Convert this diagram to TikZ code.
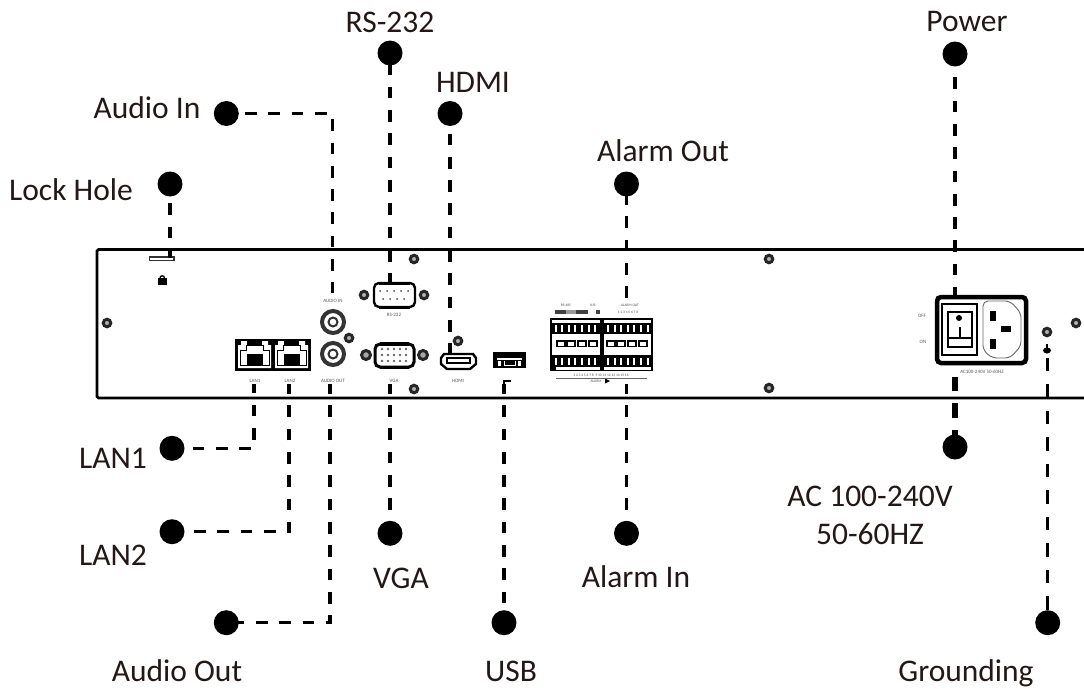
\documentclass[tikz,border=0pt]{standalone}
\usepackage{fontspec}
\setmainfont{Carlito}
\definecolor{ink}{HTML}{231815}
\tikzset{
  x=1pt,y=-1pt,
  dot/.style={circle,fill=black,draw=none,minimum size=25pt,inner sep=0pt},
  lbl/.style={font=\fontsize{31.5}{38}\selectfont,text=ink,inner sep=0pt,align=center},
  conn/.style={line width=3.5pt,dash pattern=on 11.7pt off 11.6pt,draw=black},
  tiny/.style={font=\fontsize{5}{6}\selectfont,text=black!65,inner sep=0pt},
  tinier/.style={font=\fontsize{3.6}{4}\selectfont,text=black!70,inner sep=0pt},
  chassis/.style={draw=black,line width=2.6pt},
  port/.style={draw=black,line width=1.6pt,fill=white},
  blk/.style={fill=black,draw=none},
  screwring/.style={draw=black!85,line width=3pt,fill=black!30,circle,minimum size=7.5pt,inner sep=0pt},
  jack/.style={draw=black!80,line width=4pt,fill=white,circle,minimum size=22pt,inner sep=0pt},
  jackin/.style={draw=black!80,line width=2pt,fill=white,circle,minimum size=9pt,inner sep=0pt},
}
\begin{document}
\begin{tikzpicture}
\useasboundingbox (0,0) rectangle (1084,688);
% chassis
\draw[chassis,rounded corners=1.5pt] (1084,249.5) -- (97,249.5) -- (97,398) -- (1084,398);
% lock hole
\draw[draw=black!80,fill=white,line width=1.2pt] (149.5,257) rectangle (174,260.5);
\fill[black] (158,278) rectangle (166.5,284.5);
\draw[black,line width=1.3pt] (160,278) arc[start angle=180,end angle=360,radius=2.25];
% screws
\foreach \p/\q in {107/323,349/338,414/259,414/389,364/295,424/295,458/341,769/259,769/388,1076/323}
  \node[screwring] at (\p,\q) {};
% audio jacks
\node[jack] (jackin) at (333,322) {}; \node[jackin] at (333,322) {};
\node[jack] (jackout) at (333,354) {}; \node[jackin] at (333,354) {};
% LAN block
\node[blk,minimum width=76pt,minimum height=32pt,inner sep=0pt] (lan) at (273,355) {};
\foreach \d in {0,37}{
  \fill[white] (238+\d,345) -- (241+\d,345) -- (241+\d,341) -- (268+\d,341) -- (268+\d,345) -- (271+\d,345) -- (271+\d,368) -- (238+\d,368) -- cycle;
  \fill[black] (247+\d,341) rectangle (262+\d,344.5);
  \draw[black,line width=.8pt] (240+\d,350) -- (246+\d,350) -- (246+\d,345) -- (263+\d,345) -- (263+\d,350) -- (269+\d,350) -- (269+\d,365) -- (240+\d,365) -- cycle;
  \fill[black] (246.5+\d,354) rectangle (263+\d,366);
}
% RS-232
\draw[port,line width=2.4pt,rounded corners=5pt] (374,283) rectangle (415,307);
\fill[black] (379,281.5) rectangle (410,284.5);
\fill[black] (379,305.5) rectangle (410,308.5);
\foreach \k in {0,...,4} \fill[black!70] (380+\k*7,291) circle (1pt);
\foreach \k in {0,...,3} \fill[black!70] (383+\k*7,299) circle (1pt);
% VGA
\draw[port,line width=3pt,rounded corners=5pt] (375,344) rectangle (414,367);
\fill[black] (380,342) rectangle (409,345.5);
\fill[black] (380,365.5) rectangle (409,369);
\foreach \r in {349,355,361} \foreach \k in {0,...,4} \fill[black!60] (382+\k*6,\r) circle (1.4pt);
\node[circle,draw=black!85,fill=black!35,line width=3pt,minimum size=9pt,inner sep=0pt] at (366,355) {};
\node[circle,draw=black!85,fill=black!35,line width=3pt,minimum size=9pt,inner sep=0pt] at (423,355) {};
% HDMI
\draw[port,line width=2.4pt] (444,354) -- (473,354) -- (476,358) -- (476,364) -- (470,369) -- (447,369) -- (441,364) -- (441,358) -- cycle;
\draw[black,line width=1.2pt] (447,358) -- (470,358) -- (470,363) -- (447,363) -- cycle;
% USB
\fill[black] (493,352) rectangle (526,368);
\fill[white] (497,358) rectangle (522,360);
\fill[white] (498,361) rectangle (501,366);
\fill[white] (518,361) rectangle (521,366);
\draw[white,line width=1pt] (504,361) -- (504,365) -- (515,365) -- (515,361);
\draw[black,line width=1.8pt] (504,385) -- (504,381) -- (511,381);
% terminal block
\fill[black] (550,318) rectangle (653,371);
\fill[white] (552,320) rectangle (600,322.5);
\fill[white] (604,320) rectangle (651,322.5);
\fill[white] (552,334) rectangle (600,355);
\fill[white] (604,334) rectangle (651,355);
\fill[white] (556,367) rectangle (600,369.5);
\fill[white] (604,367) rectangle (651,369.5);
\foreach \k in {0,...,6}{
  \fill[white] (554.5+\k*6.6,325) rectangle (556.5+\k*6.6,332);
  \fill[white] (554.5+\k*6.6,358) rectangle (556.5+\k*6.6,365);
  \fill[white] (607+\k*6.6,325) rectangle (609+\k*6.6,332);
  \fill[white] (607+\k*6.6,358) rectangle (609+\k*6.6,365);
}
\foreach \a in {561,571,582,593,611,621,632,643}
  \draw[black,line width=1.2pt] (\a-4,341) rectangle (\a+4,346.5);
\fill[black!75] (555,309.5) rectangle (566,313.5);
\fill[black!75] (576,309.5) rectangle (588,313.5);
\fill[black!75] (596,309.5) rectangle (600,313.5);
\fill[black!40] (566,309.5) rectangle (576,313.5);
\node[tinier] at (566,305) {RS-485};
\node[tinier] at (593,305) {K/B};
\node[tinier] at (630,305) {ALARM OUT};
\node[tinier] at (628,312) {1 2 3 4 5 6 7 8};
\node[tinier] at (601,375) {1 2 3 4 5 6 7 8\enspace 9 10 11 12 13 14 15 16};
\draw[black!60,line width=.4pt] (556,378) -- (647,378);
\node[tinier] at (596,381) {ALARM};
\fill[black] (605,378.5) -- (610,381) -- (605,383.5) -- cycle;
% power
\draw[draw=black,line width=4.5pt,fill=white,rounded corners=4pt] (937,297) rectangle (1026,363);
\draw[black,line width=1.2pt] (942,304) rectangle (977,355);
\draw[black,line width=1.8pt] (948,312) rectangle (972,347);
\draw[black,line width=1.4pt] (948,338) -- (972,338);
\fill[black] (959,318) circle (3pt);
\draw[black,line width=1.4pt] (960,327) -- (960,338);
\draw[black!60,line width=.9pt,rounded corners=5pt] (983,301) -- (1010,301) -- (1021,313) -- (1021,346) -- (1010,358) -- (992,358) -- (983,350) -- cycle;
\fill[black] (990,311) rectangle (996,321);
\fill[black] (990,339) rectangle (996,349);
\fill[black] (1001,326) rectangle (1011,332);
\node[screwring] at (1047,332) {};
\fill[black] (1047,350.5) ellipse (4pt and 3pt);
\fill[black] (1046,344) rectangle (1048,350);
% small prints
\node[tiny] at (333,301) {AUDIO IN};
\node[tiny] at (394,315) {RS-232};
\node[tiny] at (255,381) {LAN1};
\node[tiny] at (290,381) {LAN2};
\node[tiny] at (333,381) {AUDIO OUT};
\node[tiny] at (394,381) {VGA};
\node[tiny] at (458,381) {HDMI};
\node[tiny] at (922,316) {OFF};
\node[tiny] at (923,342) {ON};
\node[tiny] at (982,372) {AC100-240V 50-60HZ};
% connector ends
\coordinate (eLock) at (170,258);
\coordinate (eAudioIn) at (332.5,293);
\coordinate (eRS) at (390,285);
\coordinate (eHDMI) at (450,353);
\coordinate (eAlarmO) at (626.5,298);
\coordinate (ePower) at (955,295);
\coordinate (eLAN1) at (254,384);
\coordinate (eLAN2) at (289,384);
\coordinate (eAudioOut) at (330,384);
\coordinate (eVGA) at (390,384);
\coordinate (eUSB) at (504,384);
\coordinate (eAlarmI) at (626.5,384);
\coordinate (eAC) at (955,376.7);
\coordinate (eGnd) at (1047.7,357);
% dots
\node[dot] (dLock) at (170,184) {};
\node[dot] (dAudioIn) at (226.3,113.5) {};
\node[dot] (dRS) at (390,53) {};
\node[dot] (dHDMI) at (450,113.5) {};
\node[dot] (dAlarmO) at (626.5,184) {};
\node[dot] (dPower) at (955,54) {};
\node[dot] (dLAN1) at (172,448.3) {};
\node[dot] (dLAN2) at (172,531.7) {};
\node[dot] (dAudioOut) at (226.3,622.7) {};
\node[dot] (dVGA) at (390,533.3) {};
\node[dot] (dUSB) at (504,622.7) {};
\node[dot] (dAlarmI) at (626.5,533.3) {};
\node[dot] (dAC) at (955,447) {};
\node[dot] (dGnd) at (1047.7,622.7) {};
% connectors
\draw[conn,dash phase=4pt] (dLock.center) -- (eLock);
\draw[conn,dash phase=4.6pt] (dAudioIn.center) -| (eAudioIn);
\draw[conn,dash phase=12.9pt] (dRS.center) -- (eRS);
\draw[conn,dash phase=3.3pt] (dHDMI.center) -- (eHDMI);
\draw[conn,dash phase=14.2pt] (dAlarmO.center) -- (eAlarmO);
\draw[conn] (dPower.center) -- (ePower);
\draw[conn,dash phase=2.6pt] (dLAN1.center) -| (eLAN1);
\draw[conn,dash phase=1.3pt] (dLAN2.center) -| (eLAN2);
\draw[conn,dash phase=16.9pt] (dAudioOut.center) -| (eAudioOut);
\draw[conn] (dVGA.center) -- (eVGA);
\draw[conn,dash phase=3.9pt] (dUSB.center) -- (eUSB);
\draw[conn] (dAlarmI.center) -- (eAlarmI);
\draw[conn,line width=6pt,dash pattern=on 15pt off 11.6pt,dash phase=24.2pt] (dAC.center) -- (eAC);
\draw[conn,dash pattern=on 13.5pt off 13pt,dash phase=13.3pt] (dGnd.center) -- (eGnd);
% labels
\node[lbl] (tRS) at (390,22) {RS-232};
\node[lbl] (tHDMI) at (473,82) {HDMI};
\node[lbl] (tAudioIn) at (147,108) {Audio In};
\node[lbl] (tLock) at (71,190) {Lock Hole};
\node[lbl] (tAlarmO) at (663,151) {Alarm Out};
\node[lbl] (tPower) at (967,22) {Power};
\node[lbl] (tLAN1) at (113,458) {LAN1};
\node[lbl] (tLAN2) at (113,555) {LAN2};
\node[lbl,anchor=base] (tAudioOut) at (177,681.5) {Audio Out};
\node[lbl] (tVGA) at (401,578) {VGA};
\node[lbl,anchor=base] (tUSB) at (511,681.5) {USB};
\node[lbl] (tAlarmI) at (636,577) {Alarm In};
\node[lbl] (tAC) at (870,515) {AC 100-240V\\50-60HZ};
\node[lbl,anchor=base] (tGnd) at (966,681.5) {Grounding};
\end{tikzpicture}
\end{document}
